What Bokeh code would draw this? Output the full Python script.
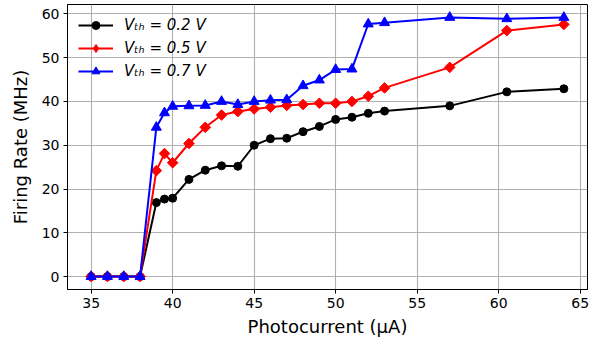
from bokeh.plotting import figure
from bokeh.models import Range1d, FixedTicker, Legend, LegendItem, ColumnDataSource
from bokeh.embed import file_html
from bokeh.resources import INLINE

# Data
photocurrent = [35, 36, 37, 38, 39, 39.5, 40, 41, 42, 43, 44, 45, 46, 47, 48, 49, 50, 51, 52, 53, 57, 60.5, 64]
rate_02 = [0, 0, 0, 0, 16.9, 17.7, 17.9, 22.2, 24.3, 25.3, 25.2, 30.0, 31.5, 31.6, 33.1, 34.3, 35.9, 36.4, 37.3, 37.8, 39.0, 42.2, 42.9]
rate_05 = [0, 0, 0, 0, 24.2, 28.1, 26.0, 30.4, 34.1, 36.9, 37.7, 38.3, 38.7, 39.1, 39.3, 39.6, 39.6, 40.0, 41.2, 43.1, 47.8, 56.2, 57.6]
rate_07 = [0, 0, 0, 0, 34.1, 37.4, 38.9, 39.0, 39.1, 40.0, 39.3, 40.0, 40.3, 40.4, 43.6, 44.9, 47.3, 47.4, 57.7, 58.0, 59.2, 58.9, 59.2]
labels = ["Vₜₕ = 0.2 V", "Vₜₕ = 0.5 V", "Vₜₕ = 0.7 V"]
x_ticks = [35, 40, 45, 50, 55, 60, 65]
y_ticks = [0, 10, 20, 30, 40, 50, 60]

FONT = "DejaVu Sans"

p = figure(
    frame_width=520, frame_height=285,
    min_border_left=67, min_border_right=16, min_border_top=4, min_border_bottom=49,
    x_range=Range1d(33.55, 65.45), y_range=Range1d(-2.96, 62.16),
    output_backend="svg", toolbar_location=None,
)
p.background_fill_color = "white"
p.border_fill_color = "white"
p.outline_line_color = "black"
p.outline_line_width = 1

for ax in (p.xaxis[0], p.yaxis[0]):
    ax.axis_line_color = "black"
    ax.axis_line_width = 1
    ax.major_tick_line_color = "black"
    ax.major_tick_out = 4
    ax.major_tick_in = 0
    ax.minor_tick_line_color = None
    ax.major_label_text_font = FONT
    ax.major_label_text_font_size = "14px"
    ax.major_label_text_color = "black"
    ax.axis_label_text_font = FONT
    ax.axis_label_text_font_size = "18px"
    ax.axis_label_text_font_style = "normal"
    ax.axis_label_text_color = "black"
    ax.major_label_standoff = 4

p.xaxis[0].ticker = FixedTicker(ticks=x_ticks)
p.yaxis[0].ticker = FixedTicker(ticks=y_ticks)
p.xaxis[0].axis_label = "Photocurrent (μA)"
p.yaxis[0].axis_label = "Firing Rate (MHz)"
p.xaxis[0].axis_label_standoff = 5
p.yaxis[0].axis_label_standoff = 8

for g in (p.xgrid[0], p.ygrid[0]):
    g.grid_line_color = "#b0b0b0"
    g.grid_line_width = 1.1

l1 = p.line(photocurrent, rate_02, color="black", line_width=2)
m1 = p.scatter(photocurrent, rate_02, marker="circle", size=8, color="black")
l2 = p.line(photocurrent, rate_05, color="red", line_width=2)
m2 = p.scatter(photocurrent, rate_05, marker="square", angle=0.785398, size=7.5, color="red")
l3 = p.line(photocurrent, rate_07, color="blue", line_width=2)
m3 = p.scatter(photocurrent, rate_07, marker="triangle", size=10, color="blue")

# legend-only diamond glyph (NaN data, so nothing is drawn in the plot)
nan_src = ColumnDataSource(data=dict(x=[float("nan")], y=[float("nan")]))
m2_leg = p.scatter("x", "y", source=nan_src, marker="diamond", size=13, color="red")

legend = Legend(
    items=[
        LegendItem(label=labels[0], renderers=[l1, m1]),
        LegendItem(label=labels[1], renderers=[l2, m2_leg]),
        LegendItem(label=labels[2], renderers=[l3, m3]),
    ],
    location="top_left",
    margin=11, padding=0, spacing=3,
    glyph_width=35, glyph_height=20, label_height=20, label_standoff=11,
    label_text_font=FONT, label_text_font_size="15px", label_text_font_style="italic",
    label_text_color="black",
    background_fill_alpha=0, border_line_alpha=0,
)
p.add_layout(legend, "center")

open("out.html", "w").write(file_html(p, INLINE))
